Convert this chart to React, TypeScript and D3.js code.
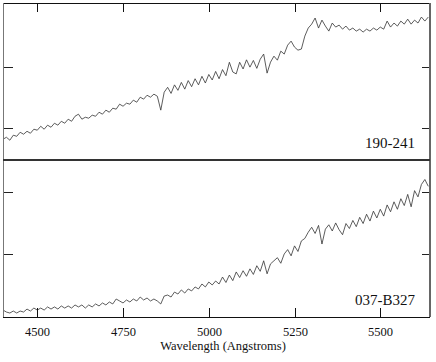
import React from 'react'
import * as d3 from 'd3'

// spectra sampled every 10 Angstroms from 4400
const waveStart = 4400
const waveStep = 10

// 190-241, flux in arbitrary units
const flux190 = [
  41.0, 42.6, 40.2, 44.3, 43.4, 46.7, 45.1, 47.5, 45.9, 49.2,
  48.4, 51.6, 49.2, 52.5, 50.8, 54.1, 52.5, 55.7, 54.1, 57.4,
  55.7, 59.8, 61.5, 57.4, 59.0, 58.2, 60.7, 59.8, 63.1, 61.5,
  64.8, 63.1, 66.4, 65.6, 69.7, 68.0, 70.5, 69.7, 73.0, 71.3,
  75.4, 73.8, 77.0, 75.4, 77.9, 76.2, 64.8, 79.5, 83.5, 78.5,
  85.5, 81.0, 87.5, 82.0, 89.0, 84.0, 90.5, 85.5, 92.5, 87.0,
  94.0, 89.5, 96.5, 90.5, 98.0, 93.0, 104.0, 96.0, 94.5, 104.0,
  98.5, 106.0, 100.0, 105.5, 99.0, 106.5, 110.7, 95.1, 104.1, 109.0,
  105.7, 113.1, 110.7, 118.0, 121.3, 116.4, 113.9, 114.8, 125.4, 132.0,
  135.2, 140.2, 132.0, 138.5, 133.6, 129.5, 136.1, 132.8, 134.4, 131.1,
  133.6, 130.3, 132.0, 129.5, 131.1, 128.7, 131.1, 129.5, 132.0, 130.3,
  132.8, 131.1, 137.7, 132.8, 136.1, 133.6, 137.7, 135.2, 139.3, 135.2,
  138.5, 136.1, 141.0, 137.7, 141.0
]

// 037-B327, flux in arbitrary units
const flux037 = [
  4.8, 3.2, 2.4, 4.0, 2.4, 4.0, 3.2, 5.6, 4.0, 6.4,
  4.8, 6.4, 4.8, 7.3, 5.6, 7.3, 5.6, 8.1, 6.4, 8.1,
  6.4, 8.9, 7.3, 8.9, 6.4, 8.9, 7.3, 9.7, 8.1, 10.5,
  8.9, 11.3, 9.7, 13.7, 12.1, 10.5, 12.9, 11.3, 13.7, 12.1,
  15.3, 12.9, 14.5, 12.1, 13.7, 12.1, 9.7, 16.1, 16.9, 15.3,
  19.3, 17.7, 21.0, 18.5, 21.8, 20.2, 23.4, 21.8, 25.8, 23.4,
  27.4, 25.0, 28.2, 25.8, 31.4, 27.0, 33.0, 28.5, 35.5, 31.0,
  36.5, 32.0, 38.0, 33.5, 40.5, 36.0, 44.5, 34.0, 42.0, 44.5,
  47.0, 42.5, 50.0, 53.5, 48.5, 56.5, 52.0, 60.5, 62.5, 67.5,
  71.5, 66.5, 73.0, 58.0, 70.0, 73.5, 68.5, 75.0, 69.5, 65.5,
  74.5, 70.5, 77.0, 72.0, 79.5, 74.5, 82.0, 76.5, 84.5, 79.0,
  86.0, 80.5, 89.5, 84.0, 92.0, 86.0, 94.5, 89.0, 98.0, 88.0,
  101.0, 96.0, 106.0, 110.0, 104.5
]

const xTicks = [4500, 4750, 5000, 5250, 5500]
const yTicks = [50, 100]

const panels = [
  { name: '190-241', flux: flux190, domain: [24, 152.5] },
  { name: '037-B327', flux: flux037, domain: [-0.8, 125.7] }
]

const left = 3
const right = 430
const top = 3
const panelH = 157

const x = d3.scaleLinear().domain([4400, 5645]).range([left, right])

const App = () => {
  const serif = "'Liberation Serif', 'Times New Roman', serif"
  const bottom = top + panelH * 2
  return (
    <svg width={436} height={362} style={{ position: 'absolute', left: 0, top: 0 }}>
      <rect width={436} height={362} fill="#fff" />
      {panels.map((p, pi) => {
        const y0 = top + pi * panelH
        const y = d3.scaleLinear().domain(p.domain).range([y0 + panelH, y0])
        const line = d3
          .line<number>()
          .x((_, i) => x(waveStart + i * waveStep))
          .y(d => y(d))
        return (
          <g key={p.name}>
            <path d={line(p.flux) || ''} fill="none" stroke="#333" strokeWidth={0.8} />
            {yTicks.map(t => (
              <g key={t}>
                <line x1={left} x2={left + 10} y1={Math.round(y(t)) + 0.5} y2={Math.round(y(t)) + 0.5} stroke="#222" />
                <line x1={right - 8} x2={right} y1={Math.round(y(t)) + 0.5} y2={Math.round(y(t)) + 0.5} stroke="#222" />
              </g>
            ))}
            <text
              x={415}
              y={y0 + panelH - 12}
              textAnchor="end"
              fontFamily={serif}
              fontSize={15}
              fill="#111"
            >
              {p.name}
            </text>
          </g>
        )
      })}
      {/* frame */}
      <line x1={left} x2={right} y1={top + 0.5} y2={top + 0.5} stroke="#111" />
      <line x1={left + 0.5} x2={left + 0.5} y1={top} y2={bottom} stroke="#777" />
      <line x1={right} x2={right} y1={top} y2={bottom} stroke="#666" strokeWidth={2} />
      <line x1={left} x2={right} y1={top + panelH} y2={top + panelH} stroke="#333" strokeWidth={2} />
      <line x1={left} x2={right} y1={bottom + 0.5} y2={bottom + 0.5} stroke="#111" />
      {xTicks.map(t => {
        const px = Math.round(x(t)) + 0.5
        return (
          <g key={t}>
            <line x1={px} x2={px} y1={top} y2={top + 9} stroke="#111" />
            <line x1={px} x2={px} y1={bottom - 9} y2={bottom} stroke="#111" />
            <text x={px} y={bottom + 19} textAnchor="middle" fontFamily={serif} fontSize={12.5} fill="#111">
              {t}
            </text>
          </g>
        )
      })}
      <text x={223} y={350} textAnchor="middle" fontFamily={serif} fontSize={12.5} fill="#111">
        Wavelength (Angstroms)
      </text>
    </svg>
  )
}

export default App
